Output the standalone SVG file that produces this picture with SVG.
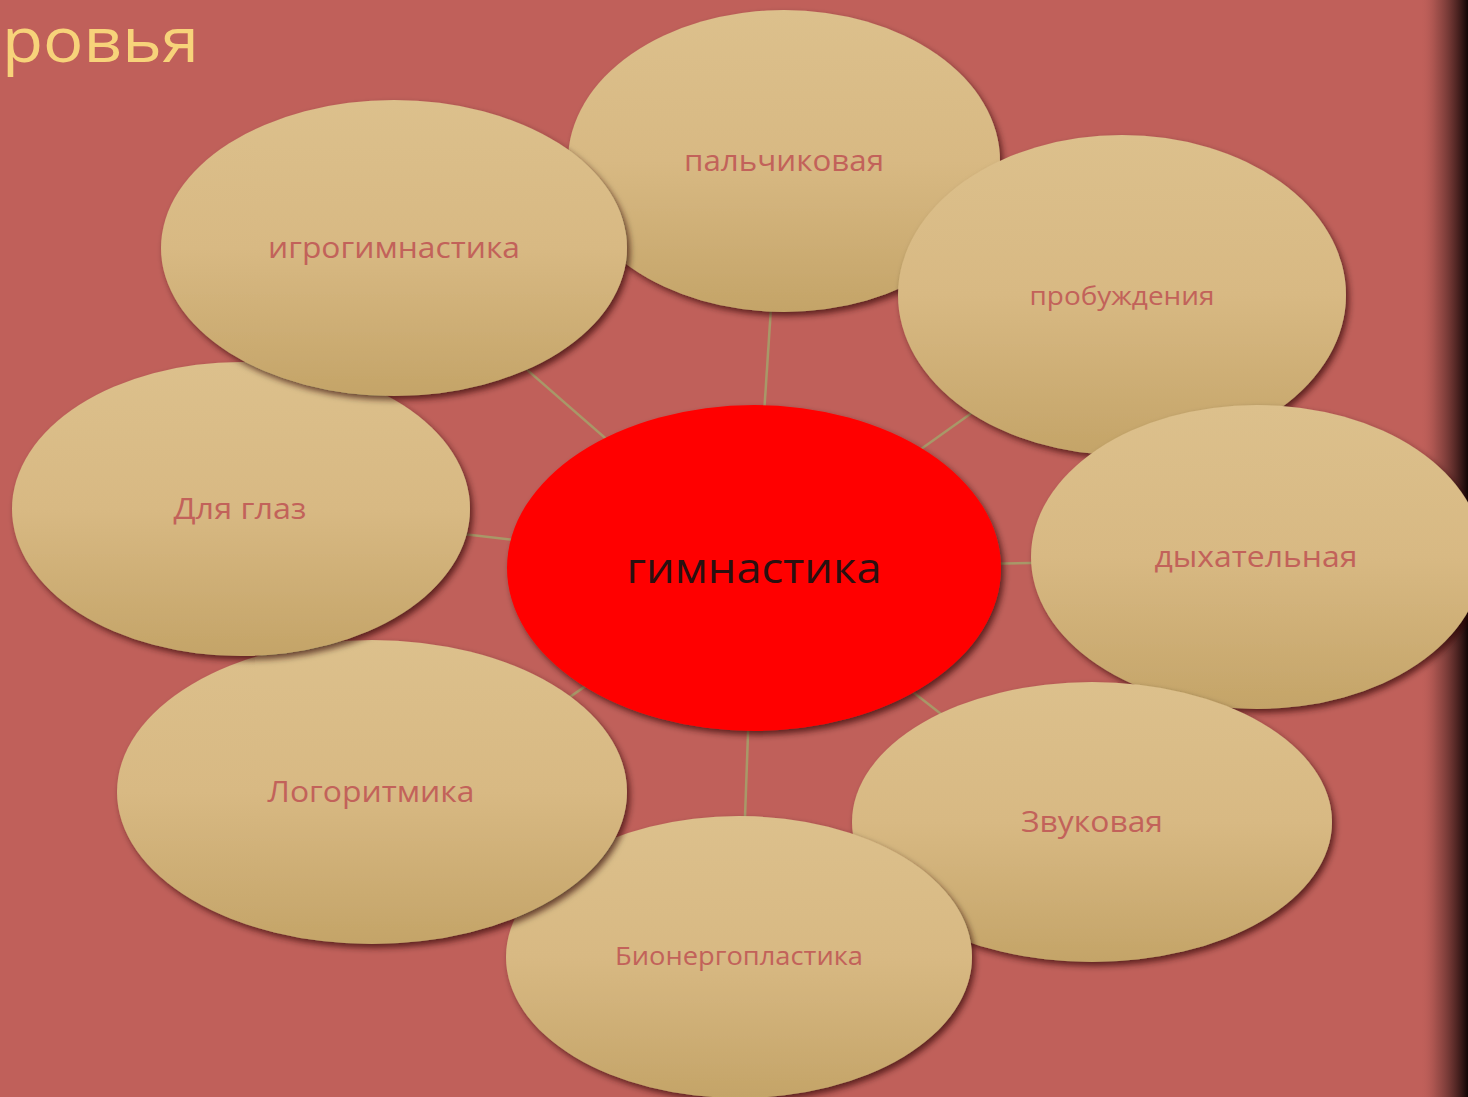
<svg xmlns="http://www.w3.org/2000/svg" width="1468" height="1097" viewBox="0 0 1468 1097">
<defs>
<linearGradient id="edge" x1="0" y1="0" x2="1" y2="0">
<stop offset="0" stop-color="#C0605A" stop-opacity="0"/>
<stop offset="0.35" stop-color="#8a4440" stop-opacity="0.6"/>
<stop offset="1" stop-color="#100404"/>
</linearGradient>
<linearGradient id="tan" x1="0" y1="0" x2="0" y2="1">
<stop offset="0" stop-color="#DCC08C"/>
<stop offset="0.5" stop-color="#D8B983"/>
<stop offset="1" stop-color="#C4A468"/>
</linearGradient>
<filter id="sh" x="-10%" y="-10%" width="125%" height="125%">
<feGaussianBlur in="SourceAlpha" stdDeviation="3"/>
<feOffset dx="3" dy="4" result="b"/>
<feFlood flood-color="#2a0a06" flood-opacity="0.65"/>
<feComposite in2="b" operator="in"/>
<feMerge><feMergeNode/><feMergeNode in="SourceGraphic"/></feMerge>
</filter>
</defs>
<style>
.n{fill:url(#tan);filter:url(#sh)}
.t{font-family:"Open Sans","Noto Sans","DejaVu Sans",sans-serif;fill:#C2625A;text-anchor:middle}
.c{stroke:#A89868;stroke-width:2.5}
</style>
<rect width="1468" height="1097" fill="#C0605A"/>
<rect x="1420" y="0" width="48" height="1097" fill="url(#edge)"/>
<text x="2" y="62" font-family="'Open Sans','Noto Sans',sans-serif" font-size="62" fill="#F7D37A" textLength="197" lengthAdjust="spacingAndGlyphs">ровья</text>
<g id="connectors">
<line class="c" x1="754" y1="568" x2="778" y2="200"/>
<line class="c" x1="754" y1="568" x2="470" y2="320"/>
<line class="c" x1="754" y1="568" x2="1060" y2="350"/>
<line class="c" x1="754" y1="568" x2="300" y2="515"/>
<line class="c" x1="754" y1="568" x2="1200" y2="560"/>
<line class="c" x1="754" y1="568" x2="1000" y2="760"/>
<line class="c" x1="754" y1="568" x2="742" y2="900"/>
<line class="c" x1="754" y1="568" x2="480" y2="760"/>
</g>
<g id="n-palchikovaya"><ellipse class="n" cx="784" cy="161" rx="216" ry="151"/><text class="t" x="784" y="171" font-size="29" textLength="200" lengthAdjust="spacingAndGlyphs">пальчиковая</text></g>
<g id="n-probuzhdeniya"><ellipse class="n" cx="1122" cy="295" rx="224" ry="160"/><text class="t" x="1122" y="305" font-size="26" textLength="185" lengthAdjust="spacingAndGlyphs">пробуждения</text></g>
<g id="n-dykhatelnaya"><ellipse class="n" cx="1257" cy="557" rx="226" ry="152"/><text class="t" x="1256" y="567" font-size="30" textLength="203" lengthAdjust="spacingAndGlyphs">дыхательная</text></g>
<g id="n-zvukovaya"><ellipse class="n" cx="1092" cy="822" rx="240" ry="140"/><text class="t" x="1092" y="832" font-size="30" textLength="142" lengthAdjust="spacingAndGlyphs">Звуковая</text></g>
<g id="n-bionergoplastika"><ellipse class="n" cx="739" cy="957" rx="233" ry="141"/><text class="t" x="739" y="965" font-size="25" textLength="248" lengthAdjust="spacingAndGlyphs">Бионергопластика</text></g>
<g id="n-logoritmika"><ellipse class="n" cx="372" cy="792" rx="255" ry="152"/><text class="t" x="371" y="802" font-size="30" textLength="207" lengthAdjust="spacingAndGlyphs">Логоритмика</text></g>
<g id="n-dlya-glaz"><ellipse class="n" cx="241" cy="509" rx="229" ry="147"/><text class="t" x="240" y="519" font-size="30" textLength="133" lengthAdjust="spacingAndGlyphs">Для глаз</text></g>
<g id="n-igrogimnastika"><ellipse class="n" cx="394" cy="248" rx="233" ry="148"/><text class="t" x="394" y="258" font-size="29" textLength="252" lengthAdjust="spacingAndGlyphs">игрогимнастика</text></g>
<g id="n-gimnastika"><ellipse cx="754" cy="568" rx="247" ry="163" fill="#FF0000" filter="url(#sh)"/><text x="754" y="583" font-family="'Open Sans','Noto Sans',sans-serif" font-size="42" fill="#2A1010" text-anchor="middle" textLength="255" lengthAdjust="spacingAndGlyphs">гимнастика</text></g>
</svg>
